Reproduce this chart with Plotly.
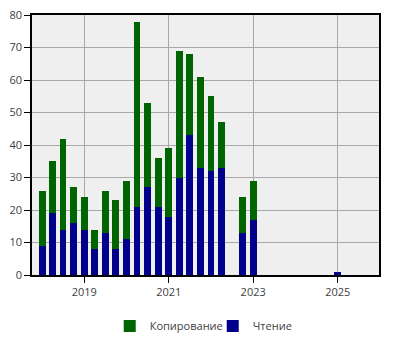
import plotly.graph_objects as go

quarters = ["2018-01-01", "2018-04-01", "2018-07-01", "2018-10-01",
            "2019-01-01", "2019-04-01", "2019-07-01", "2019-10-01",
            "2020-01-01", "2020-04-01", "2020-07-01", "2020-10-01",
            "2021-01-01", "2021-04-01", "2021-07-01", "2021-10-01",
            "2022-01-01", "2022-04-01", "2022-10-01", "2023-01-01",
            "2025-01-01"]
reading = [9, 19, 14, 16, 14, 8, 13, 8, 11, 21, 27, 21, 18, 30, 43, 33, 32, 33, 13, 17, 1]
totals = [26, 35, 42, 27, 24, 14, 26, 23, 29, 78, 53, 36, 39, 69, 68, 61, 55, 47, 24, 29, 1]
copying = [t - r for t, r in zip(totals, reading)]

bar_width_ms = 60 * 24 * 3600 * 1000
font = dict(family="Open Sans", size=11, color="#404040")

fig = go.Figure()
fig.add_trace(go.Bar(x=quarters, y=reading, name="Чтение",
                     marker=dict(color="#00008B", line=dict(width=0)),
                     width=bar_width_ms))
fig.add_trace(go.Bar(x=quarters, y=copying, name="Копирование",
                     marker=dict(color="#006400", line=dict(width=0)),
                     width=bar_width_ms))

fig.update_layout(
    width=400, height=350,
    margin=dict(l=32, r=21, t=15, b=75, autoexpand=False),
    barmode="stack",
    paper_bgcolor="white",
    plot_bgcolor="#EFEFEF",
    font=font,
    showlegend=True,
    legend=dict(orientation="h", x=0.224, xanchor="left", y=-0.196, yanchor="middle",
                traceorder="reversed", font=font, itemwidth=30,
                entrywidth=58, entrywidthmode="pixels"),
)
fig.update_xaxes(
    type="date", automargin=False,
    range=["2017-10-06", "2025-12-24"],
    tick0="2019-01-01", dtick="M24", tickformat="%Y",
    showgrid=True, gridcolor="#A8A8A8", gridwidth=1,
    showline=True, linecolor="black", linewidth=1.5, mirror=True,
    ticks="outside", ticklen=6, tickcolor="black",
    tickfont=font,
)
fig.update_yaxes(
    range=[0, 80], dtick=10, automargin=False,
    showgrid=True, gridcolor="#A8A8A8", gridwidth=1,
    showline=True, linecolor="black", linewidth=1.5, mirror=True,
    ticks="outside", ticklen=6, tickcolor="black",
    zeroline=False,
    tickfont=font,
)

fig.write_html("out.html")
